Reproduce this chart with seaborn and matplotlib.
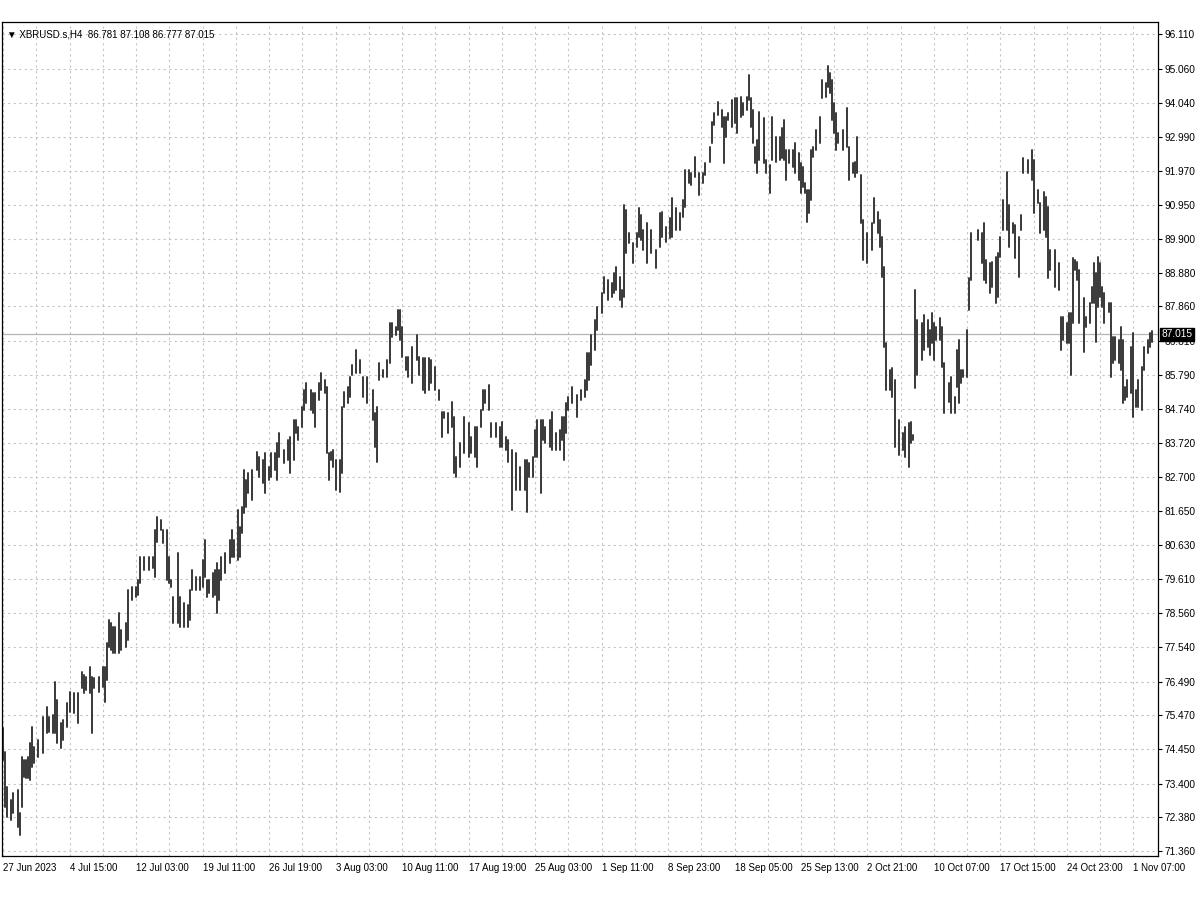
import pandas as pd
import matplotlib
matplotlib.use("Agg")
import matplotlib.pyplot as plt
import matplotlib.transforms as mtransforms
import seaborn as sns

# H4 bar number, high and low
bars = [0, 1, 2, 4, 5, 7, 8, 9, 10, 11, 12, 13, 14, 15, 17, 19, 21, 22, 24, 25,
        26, 28, 29, 31, 32, 34, 36, 38, 39, 40, 42, 43, 44, 46, 48, 49, 50, 51, 52, 53,
        54, 56, 57, 59, 60, 62, 64, 65, 66, 68, 70, 72, 73, 74, 76, 77, 79, 80, 81, 82,
        84, 85, 87, 89, 90, 91, 93, 95, 96, 97, 98, 99, 101, 102, 103, 104, 105, 107, 109, 110,
        111, 113, 114, 115, 116, 117, 118, 120, 122, 123, 125, 126, 128, 129, 131, 132, 133, 135, 137, 138,
        140, 141, 142, 144, 145, 146, 148, 149, 150, 152, 153, 155, 156, 157, 158, 159, 160, 162, 163, 164,
        166, 167, 168, 170, 172, 173, 175, 178, 179, 180, 181, 183, 185, 186, 187, 189, 190, 191, 192, 194,
        195, 197, 199, 200, 202, 203, 205, 206, 208, 210, 211, 212, 214, 216, 217, 218, 220, 222, 224, 225,
        227, 228, 230, 231, 232, 234, 235, 237, 239, 240, 242, 243, 245, 247, 249, 251, 252, 253, 255, 256,
        257, 259, 260, 261, 263, 264, 266, 268, 269, 270, 271, 272, 274, 276, 278, 280, 281, 282, 283, 285,
        286, 288, 289, 291, 293, 294, 295, 297, 298, 299, 300, 301, 303, 305, 306, 307, 308, 310, 312, 314,
        316, 317, 319, 321, 322, 324, 326, 327, 328, 330, 331, 333, 335, 337, 338, 340, 341, 342, 344, 346,
        347, 348, 349, 351, 352, 353, 355, 356, 358, 359, 360, 361, 362, 363, 364, 366, 367, 369, 370, 372,
        374, 375, 376, 377, 378, 380, 381, 383, 384, 385, 386, 387, 388, 389, 390, 391, 393, 394, 396, 397,
        398, 399, 400, 401, 402, 404, 406, 407, 409, 410, 411, 413, 414, 416, 418, 419, 421, 422, 423, 424,
        425, 427, 428, 429, 431, 433, 434, 436, 437, 438, 439, 440, 442, 443, 445, 446, 447, 448, 449, 451,
        452, 453, 455, 456, 458, 459, 460, 461, 462, 464, 465, 466, 469, 471, 472, 473, 475, 476, 478, 479,
        480, 481, 483, 484, 486, 487, 489, 490, 491, 493, 495, 496, 498, 499, 501, 502, 503, 504, 506, 508,
        509, 510, 512, 513, 514, 515, 516, 517, 518, 520, 521, 523, 524, 525, 526, 527, 528, 529, 530, 532,
        533, 534, 535, 537, 538, 539, 540, 541, 543, 544, 545, 546, 548, 549, 551, 552, 553]

highs = [75.09, 74.36, 73.30, 72.91, 73.12, 73.21, 72.51, 74.21, 74.12, 74.12, 74.21, 74.63, 75.12, 74.51, 74.73, 75.42, 75.73, 75.42, 75.48, 76.48,
         75.94, 75.24, 75.33, 75.85, 76.18, 76.15, 76.15, 76.79, 76.70, 76.63, 76.94, 76.63, 76.60, 76.63, 76.94, 76.94, 77.67, 78.36, 78.27, 78.15,
         78.15, 78.57, 78.06, 78.27, 79.27, 79.36, 79.36, 79.57, 80.27, 80.27, 80.27, 80.27, 81.09, 81.48, 81.39, 81.09, 81.09, 80.27, 79.57, 79.06,
         80.39, 79.06, 78.88, 78.82, 79.27, 79.88, 79.67, 79.67, 80.18, 80.79, 79.57, 79.57, 79.79, 79.88, 80.09, 79.88, 80.27, 80.39, 80.79, 81.09,
         80.79, 81.70, 81.18, 81.79, 82.91, 82.60, 82.82, 82.91, 83.45, 83.30, 83.21, 83.42, 83.00, 83.42, 83.42, 83.73, 84.03, 83.51, 83.82, 83.91,
         84.42, 84.42, 84.21, 84.82, 85.33, 85.54, 85.33, 85.24, 85.24, 85.54, 85.85, 85.63, 85.42, 83.42, 83.45, 83.51, 83.21, 83.21, 84.82, 85.27,
         85.42, 85.73, 86.09, 86.54, 86.24, 85.73, 85.73, 85.33, 84.63, 84.82, 86.15, 85.94, 86.24, 87.36, 87.36, 87.24, 87.76, 87.76, 87.24, 86.33,
         86.33, 86.63, 87.00, 86.33, 86.30, 86.30, 86.30, 86.24, 86.03, 85.33, 84.67, 84.67, 84.63, 84.97, 84.51, 83.30, 83.73, 84.51, 84.33, 83.91,
         84.21, 84.21, 84.73, 85.33, 85.33, 85.48, 84.33, 84.33, 84.21, 84.36, 83.91, 83.82, 83.51, 83.42, 83.00, 83.21, 83.21, 83.12, 83.30, 84.12,
         84.42, 84.42, 84.42, 84.21, 84.42, 84.67, 84.03, 84.12, 84.51, 84.51, 84.94, 85.12, 85.42, 85.18, 85.33, 85.63, 86.45, 86.45, 87.00, 87.45,
         87.85, 88.27, 88.76, 88.67, 88.57, 88.88, 89.06, 88.76, 88.36, 90.94, 90.79, 90.09, 89.79, 90.09, 90.85, 90.63, 90.18, 90.39, 90.18, 89.57,
         90.70, 90.73, 90.27, 90.54, 91.15, 90.85, 90.70, 91.09, 92.00, 92.00, 91.91, 92.39, 91.91, 91.91, 92.21, 92.70, 93.45, 93.73, 94.06, 93.82,
         93.60, 93.60, 93.73, 94.12, 94.18, 94.18, 94.21, 94.03, 94.21, 94.88, 94.18, 93.82, 92.70, 92.91, 93.76, 93.57, 92.30, 92.15, 93.60, 93.00,
         93.00, 93.27, 93.51, 92.60, 92.60, 92.60, 92.82, 92.51, 92.21, 92.09, 91.60, 91.39, 91.39, 92.60, 92.70, 93.21, 93.60, 94.73, 94.63, 95.15,
         94.94, 94.73, 94.03, 93.73, 93.12, 93.21, 93.88, 92.70, 92.21, 92.24, 93.00, 91.85, 90.48, 90.09, 90.39, 91.15, 90.73, 90.48, 89.97, 89.06,
         86.76, 85.94, 86.00, 85.63, 84.42, 84.03, 84.21, 84.33, 84.36, 83.97, 88.36, 87.45, 87.36, 87.60, 87.45, 87.15, 87.67, 87.36, 87.24, 87.51,
         87.24, 86.15, 85.54, 85.73, 85.12, 86.54, 86.85, 85.94, 85.94, 87.15, 88.73, 90.09, 90.18, 90.09, 90.39, 89.27, 89.18, 89.21, 89.36, 89.48,
         89.97, 91.09, 91.94, 90.94, 90.39, 90.33, 89.97, 90.63, 92.36, 92.30, 92.60, 92.30, 91.39, 91.00, 91.33, 91.18, 90.88, 89.57, 89.57, 89.18,
         87.54, 87.54, 87.36, 87.67, 87.67, 89.33, 89.27, 89.21, 88.97, 88.12, 87.54, 87.97, 88.45, 89.18, 88.88, 89.36, 89.18, 88.45, 88.27, 87.97,
         87.97, 86.94, 86.94, 86.85, 87.24, 86.85, 85.42, 85.63, 86.63, 87.06, 85.33, 85.63, 86.03, 86.63, 86.85, 87.06, 87.108]

lows = [74.12, 72.70, 72.39, 72.30, 72.51, 72.09, 71.85, 72.70, 73.60, 73.57, 73.57, 73.51, 73.91, 74.03, 74.21, 74.33, 74.94, 74.97, 74.94, 74.94,
        74.63, 74.48, 74.73, 75.12, 75.57, 75.54, 75.24, 76.30, 76.15, 76.24, 76.15, 74.94, 76.30, 76.18, 76.33, 75.88, 76.54, 77.54, 77.45, 77.36,
        77.36, 77.36, 77.45, 77.54, 77.76, 78.97, 79.06, 79.12, 79.48, 79.88, 79.88, 79.94, 79.67, 80.73, 81.09, 80.70, 79.57, 79.48, 79.36, 78.27,
        78.27, 78.15, 78.15, 78.15, 78.36, 79.27, 79.27, 79.27, 79.36, 79.67, 79.06, 79.18, 79.06, 79.12, 78.57, 78.97, 79.57, 79.79, 80.09, 80.27,
        80.27, 80.18, 80.27, 81.00, 81.60, 81.79, 82.21, 82.00, 82.91, 82.70, 82.51, 82.21, 82.60, 82.70, 82.91, 82.60, 83.30, 83.12, 83.21, 82.82,
        83.21, 84.03, 83.82, 84.21, 84.73, 84.94, 84.73, 84.63, 84.21, 85.03, 85.33, 85.24, 83.42, 82.60, 83.21, 83.00, 82.30, 82.24, 82.82, 84.82,
        84.94, 85.12, 85.79, 85.85, 85.85, 85.12, 84.94, 84.42, 83.60, 83.15, 85.63, 85.73, 85.73, 86.15, 86.94, 87.00, 87.15, 86.85, 86.33, 85.94,
        85.73, 85.54, 86.24, 85.79, 85.33, 85.24, 85.33, 85.54, 85.33, 85.03, 83.91, 84.48, 84.03, 84.21, 82.82, 82.70, 83.00, 83.42, 83.30, 83.42,
        83.30, 83.00, 84.21, 84.73, 84.94, 84.73, 83.91, 83.91, 83.60, 83.60, 83.51, 83.15, 81.70, 82.30, 82.30, 82.30, 81.63, 82.70, 82.70, 83.30,
        83.30, 82.21, 83.82, 83.73, 83.60, 83.51, 83.51, 83.51, 83.82, 83.21, 84.03, 84.73, 84.94, 84.51, 85.03, 85.12, 85.33, 85.63, 86.09, 86.54,
        87.15, 87.67, 88.27, 88.06, 88.15, 88.27, 88.36, 88.06, 87.85, 88.15, 89.48, 89.79, 89.18, 89.67, 89.97, 89.88, 89.57, 89.18, 89.48, 89.03,
        89.67, 89.97, 89.82, 89.94, 89.97, 90.18, 90.18, 90.57, 90.88, 91.60, 91.54, 91.79, 91.24, 91.60, 91.85, 92.24, 92.82, 93.36, 93.67, 93.30,
        92.21, 93.00, 93.51, 93.30, 93.42, 93.12, 93.60, 93.67, 93.82, 94.12, 93.30, 92.82, 92.21, 91.91, 92.30, 92.21, 91.91, 91.30, 92.30, 92.24,
        92.30, 92.36, 92.30, 91.70, 92.21, 92.09, 91.91, 91.70, 91.30, 91.48, 91.30, 90.42, 90.70, 91.09, 92.39, 92.60, 92.82, 94.18, 94.21, 94.51,
        94.33, 93.51, 93.12, 92.60, 92.82, 92.60, 92.70, 91.70, 91.91, 91.79, 91.91, 90.39, 89.27, 89.18, 89.57, 90.39, 90.09, 89.67, 88.76, 86.63,
        85.33, 85.33, 85.12, 83.60, 83.36, 83.51, 83.30, 83.00, 83.73, 83.82, 85.39, 85.79, 86.24, 86.54, 86.63, 86.39, 86.76, 86.24, 86.85, 86.85,
        86.03, 84.63, 84.97, 84.63, 84.63, 85.42, 84.94, 85.54, 85.73, 85.73, 87.76, 88.67, 89.88, 89.18, 88.67, 88.57, 88.27, 88.45, 87.97, 88.15,
        89.36, 90.18, 90.18, 89.67, 90.09, 89.33, 88.76, 90.18, 91.91, 91.91, 91.70, 90.70, 91.00, 90.09, 90.18, 89.97, 88.73, 88.97, 88.45, 88.36,
        86.54, 86.85, 86.76, 86.76, 85.79, 87.36, 88.97, 88.67, 87.36, 86.48, 87.24, 87.36, 87.97, 87.97, 86.79, 87.85, 88.15, 87.85, 87.36, 87.70,
        85.73, 86.15, 86.24, 86.15, 85.94, 84.94, 85.03, 85.12, 85.24, 84.51, 84.82, 84.82, 84.73, 85.94, 86.45, 86.63, 86.777]

x_ticks = [0, 32, 64, 96, 128, 160, 192, 224, 256, 288, 320, 352, 384, 416, 448, 480, 512, 544]
x_labels = ["27 Jun 2023", "4 Jul 15:00", "12 Jul 03:00", "19 Jul 11:00", "26 Jul 19:00",
            "3 Aug 03:00", "10 Aug 11:00", "17 Aug 19:00", "25 Aug 03:00", "1 Sep 11:00",
            "8 Sep 23:00", "18 Sep 05:00", "25 Sep 13:00", "2 Oct 21:00", "10 Oct 07:00",
            "17 Oct 15:00", "24 Oct 23:00", "1 Nov 07:00"]
y_labels = ["71.360", "72.380", "73.400", "74.450", "75.470", "76.490", "77.540", "78.560",
            "79.610", "80.630", "81.650", "82.700", "83.720", "84.740", "85.790", "86.810",
            "87.860", "88.880", "89.900", "90.950", "91.970", "92.990", "94.040", "95.060", "96.110"]
y_ticks = [float(s) for s in y_labels]
last_price = 87.015
title_txt = "\u25BC XBRUSD.s,H4  86.781 87.108 86.777 87.015"

n = len(bars)
df = pd.DataFrame({
    "bar": bars + bars,
    "price": highs + lows,
    "unit": list(range(n)) * 2,
})

sns.set_theme(style="white")
plt.rcParams["font.family"] = ["Liberation Sans", "DejaVu Sans"]

fig = plt.figure(figsize=(12, 9), dpi=100)
ax = fig.add_axes([2 / 1200, 1 - 856 / 900, 1156 / 1200, 834 / 900])

# grid first so bars sit on top
for v in y_ticks:
    ax.axhline(v, color="#c4c4c4", lw=0.8, ls=(0, (2, 3)), zorder=0)
for b in range(0, 560, 16):
    ax.axvline(b, color="#c4c4c4", lw=0.8, ls=(0, (2, 3)), zorder=0)
ax.axhline(last_price, color="#b4b4b4", lw=0.9, zorder=1)

sns.lineplot(data=df, x="bar", y="price", units="unit", estimator=None,
             color="#383838", lw=1.4, legend=False, ax=ax, zorder=2)

ax.set_xlim(-0.5, 555.8)
ax.set_ylim(71.21, 96.48)
ax.set_xlabel("")
ax.set_ylabel("")

ax.set_xticks(x_ticks)
ax.set_xticklabels(x_labels, fontsize=7, color="black")
ax.yaxis.tick_right()
ax.set_yticks(y_ticks)
ax.set_yticklabels(y_labels, fontsize=7.3, color="black")
ax.tick_params(axis="x", direction="out", length=4, width=0.8, pad=1, colors="black")
ax.tick_params(axis="y", direction="out", length=3, width=0.8, pad=2, colors="black")
for lbl in ax.get_xticklabels():
    lbl.set_horizontalalignment("left")

for s in ax.spines.values():
    s.set_visible(True)
    s.set_color("black")
    s.set_linewidth(0.9)

trans = mtransforms.blended_transform_factory(ax.transAxes, ax.transData)
ax.text(1.003, last_price, f"{last_price:.3f}", transform=trans, fontsize=7.3,
        color="white", va="center", ha="left", zorder=10, clip_on=False,
        bbox=dict(boxstyle="square,pad=0.15", fc="black", ec="black"))

ax.text(0.004, 0.985, title_txt, transform=ax.transAxes, fontsize=7,
        color="black", va="center", ha="left",
        family=["Liberation Sans", "DejaVu Sans"])

fig.savefig("out.png", dpi=100)
